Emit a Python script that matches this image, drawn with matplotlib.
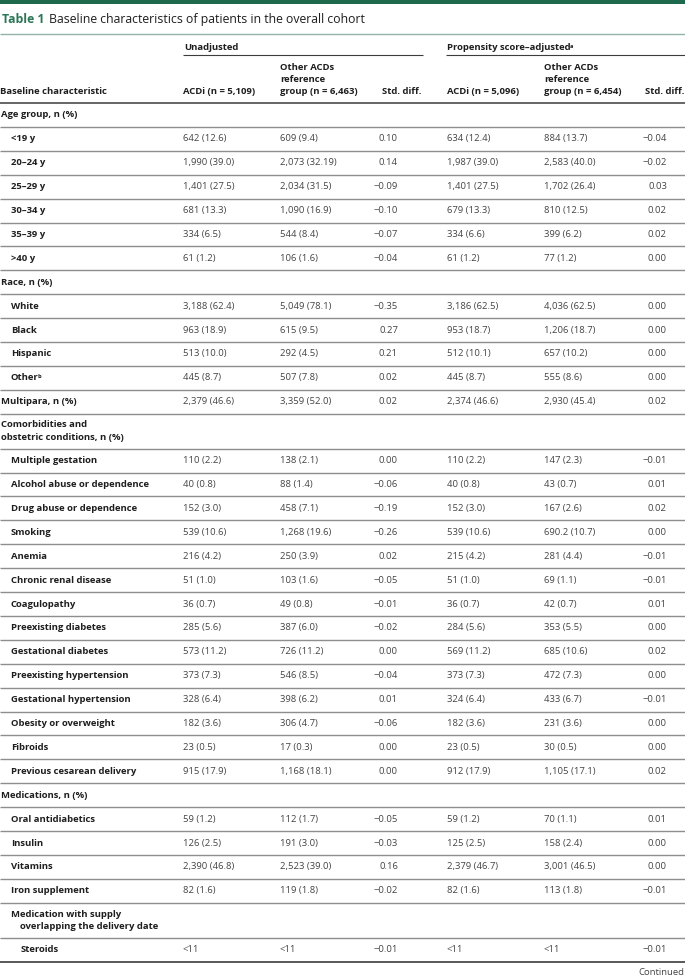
import matplotlib
matplotlib.use("Agg")
import matplotlib.pyplot as plt

plt.rcParams["font.family"] = ["Open Sans", "DejaVu Sans"]

# ---------------- data ----------------
title_num = "Table 1"
title_text = "Baseline characteristics of patients in the overall cohort"
group_headers = ["Unadjusted", "Propensity score–adjusted"]
group_header_notes = ["", "a"]
col_headers = ["ACDi (n = 5,109)", "Other ACDs\nreference\ngroup (n = 6,463)", "Std. diff.",
               "ACDi (n = 5,096)", "Other ACDs\nreference\ngroup (n = 6,454)", "Std. diff."]
first_col_header = "Baseline characteristic"

row_labels = [
    "Age group, n (%)", "<19 y", "20–24 y", "25–29 y", "30–34 y", "35–39 y", ">40 y",
    "Race, n (%)", "White", "Black", "Hispanic", "Other",
    "Multipara, n (%)",
    "Comorbidities and\nobstetric conditions, n (%)",
    "Multiple gestation", "Alcohol abuse or dependence", "Drug abuse or dependence",
    "Smoking", "Anemia", "Chronic renal disease", "Coagulopathy", "Preexisting diabetes",
    "Gestational diabetes", "Preexisting hypertension", "Gestational hypertension",
    "Obesity or overweight", "Fibroids", "Previous cesarean delivery",
    "Medications, n (%)", "Oral antidiabetics", "Insulin", "Vitamins", "Iron supplement",
    "Medication with supply\noverlapping the delivery date",
    "Steroids",
]
row_notes = [""] * 11 + ["b"] + [""] * 23
row_levels = [0, 1, 1, 1, 1, 1, 1,
              0, 1, 1, 1, 1,
              0,
              0,
              1, 1, 1, 1, 1, 1, 1, 1, 1, 1, 1, 1, 1, 1,
              0, 1, 1, 1, 1,
              1,
              2]

unadj_acdi = ["", "642 (12.6)", "1,990 (39.0)", "1,401 (27.5)", "681 (13.3)", "334 (6.5)", "61 (1.2)",
              "", "3,188 (62.4)", "963 (18.9)", "513 (10.0)", "445 (8.7)",
              "2,379 (46.6)",
              "",
              "110 (2.2)", "40 (0.8)", "152 (3.0)", "539 (10.6)", "216 (4.2)", "51 (1.0)", "36 (0.7)",
              "285 (5.6)", "573 (11.2)", "373 (7.3)", "328 (6.4)", "182 (3.6)", "23 (0.5)", "915 (17.9)",
              "", "59 (1.2)", "126 (2.5)", "2,390 (46.8)", "82 (1.6)",
              "", "<11"]
unadj_other = ["", "609 (9.4)", "2,073 (32.19)", "2,034 (31.5)", "1,090 (16.9)", "544 (8.4)", "106 (1.6)",
               "", "5,049 (78.1)", "615 (9.5)", "292 (4.5)", "507 (7.8)",
               "3,359 (52.0)",
               "",
               "138 (2.1)", "88 (1.4)", "458 (7.1)", "1,268 (19.6)", "250 (3.9)", "103 (1.6)", "49 (0.8)",
               "387 (6.0)", "726 (11.2)", "546 (8.5)", "398 (6.2)", "306 (4.7)", "17 (0.3)", "1,168 (18.1)",
               "", "112 (1.7)", "191 (3.0)", "2,523 (39.0)", "119 (1.8)",
               "", "<11"]
unadj_std = ["", "0.10", "0.14", "−0.09", "−0.10", "−0.07", "−0.04",
             "", "−0.35", "0.27", "0.21", "0.02",
             "0.02",
             "",
             "0.00", "−0.06", "−0.19", "−0.26", "0.02", "−0.05", "−0.01",
             "−0.02", "0.00", "−0.04", "0.01", "−0.06", "0.00", "0.00",
             "", "−0.05", "−0.03", "0.16", "−0.02",
             "", "−0.01"]
adj_acdi = ["", "634 (12.4)", "1,987 (39.0)", "1,401 (27.5)", "679 (13.3)", "334 (6.6)", "61 (1.2)",
            "", "3,186 (62.5)", "953 (18.7)", "512 (10.1)", "445 (8.7)",
            "2,374 (46.6)",
            "",
            "110 (2.2)", "40 (0.8)", "152 (3.0)", "539 (10.6)", "215 (4.2)", "51 (1.0)", "36 (0.7)",
            "284 (5.6)", "569 (11.2)", "373 (7.3)", "324 (6.4)", "182 (3.6)", "23 (0.5)", "912 (17.9)",
            "", "59 (1.2)", "125 (2.5)", "2,379 (46.7)", "82 (1.6)",
            "", "<11"]
adj_other = ["", "884 (13.7)", "2,583 (40.0)", "1,702 (26.4)", "810 (12.5)", "399 (6.2)", "77 (1.2)",
             "", "4,036 (62.5)", "1,206 (18.7)", "657 (10.2)", "555 (8.6)",
             "2,930 (45.4)",
             "",
             "147 (2.3)", "43 (0.7)", "167 (2.6)", "690.2 (10.7)", "281 (4.4)", "69 (1.1)", "42 (0.7)",
             "353 (5.5)", "685 (10.6)", "472 (7.3)", "433 (6.7)", "231 (3.6)", "30 (0.5)", "1,105 (17.1)",
             "", "70 (1.1)", "158 (2.4)", "3,001 (46.5)", "113 (1.8)",
             "", "<11"]
adj_std = ["", "−0.04", "−0.02", "0.03", "0.02", "0.02", "0.00",
           "", "0.00", "0.00", "0.00", "0.00",
           "0.02",
           "",
           "−0.01", "0.01", "0.02", "0.00", "−0.01", "−0.01", "0.01",
           "0.00", "0.02", "0.00", "−0.01", "0.00", "0.00", "0.02",
           "", "0.01", "0.00", "0.00", "−0.01",
           "", "−0.01"]
footer_text = "Continued"

# ---------------- layout / style ----------------
W, H = 685, 977
GREEN = "#1f6a4c"
GREEN_T = "#2a7655"
TXT = "#1e1e1e"
DATA = "#444444"
SEP = "#8e8e8e"
DARK = "#3c3c3c"
FS = 6.8
FS_TITLE = 8.85
W_LAB = "bold"

fig = plt.figure(figsize=(W / 100, H / 100), dpi=100)
ax = fig.add_axes([0, 0, 1, 1])
ax.set_xlim(0, W)
ax.set_ylim(H, 0)
ax.axis("off")

# top bar and title
ax.axhspan(0, 4, color=GREEN, lw=0)
t = ax.text(2, 26, title_num, fontsize=FS_TITLE, weight="bold", color=GREEN_T, va="bottom", ha="left")
ax.annotate(title_text, xy=(1, 0), xycoords=t, xytext=(3.5, 0), textcoords="offset points",
            fontsize=FS_TITLE, color=TXT, va="bottom", ha="left")
ax.hlines(34, 0, W, color="#93b3a6", lw=1.0)

# column positions
x_label = 1
x_cols = [183, 280, 382, 447, 544, 684]
col_ha = ["left", "left", "left", "left", "left", "right"]
x_std_right = [398, 667]
indent = [0, 10, 20]
hang = 9

# group headers
grp_spans = [(183, 423), (446, W)]
for (x0, x1), g, note in zip(grp_spans, group_headers, group_header_notes):
    gt = ax.text(x0 + 1, 47, g, fontsize=FS, weight=W_LAB, color=TXT, va="center", ha="left")
    if note:
        ax.annotate(note, xy=(1, 1), xycoords=gt, xytext=(-0.6, -0.8), textcoords="offset points",
                    fontsize=FS * 0.6, weight=W_LAB, color=TXT, va="top", ha="left")
    ax.hlines(55, x0, x1, color=DARK, lw=0.8)

# column headers
base_y = 91
line_h = 11.6
ax.text(x_label - 1, base_y, first_col_header, fontsize=FS, weight=W_LAB, color=TXT, va="center")
for x, ha, ch in zip(x_cols, col_ha, col_headers):
    parts = ch.split("\n")
    for i, p in enumerate(parts):
        yy = base_y - (len(parts) - 1 - i) * line_h
        ax.text(x, yy, p, fontsize=FS, weight=W_LAB, color=TXT, va="center", ha=ha)
ax.hlines(103, 0, W, color=DARK, lw=1.1)

# body rows
single_h = 23.9
double_h = 35.0
y = 103
data_cols = [unadj_acdi, unadj_other, unadj_std, adj_acdi, adj_other, adj_std]
n_rows = len(row_labels)
for r in range(n_rows):
    parts = row_labels[r].split("\n")
    h = single_h if len(parts) == 1 else double_h
    yc = y + h / 2
    lvl = row_levels[r]
    for i, p in enumerate(parts):
        yy = yc + (i - (len(parts) - 1) / 2) * 12.5
        xx = x_label + indent[lvl] + (hang if (i > 0 and lvl > 0) else 0)
        lt = ax.text(xx, yy, p, fontsize=FS, weight=W_LAB, color=TXT, va="center", ha="left")
    if row_notes[r]:
        ax.annotate(row_notes[r], xy=(1, 1), xycoords=lt, xytext=(-0.6, -0.8), textcoords="offset points",
                    fontsize=FS * 0.6, weight=W_LAB, color=TXT, va="top", ha="left")
    for c, col in enumerate(data_cols):
        v = col[r]
        if not v:
            continue
        if c in (2, 5):
            ax.text(x_std_right[c // 3], yc, v, fontsize=FS, color=DATA, va="center", ha="right")
        else:
            ax.text(x_cols[c], yc, v, fontsize=FS, color=DATA, va="center", ha="left")
    y += h
    if r < n_rows - 1:
        ax.hlines(y, 0, W, color=SEP, lw=1.0)
    else:
        ax.hlines(y, 0, W, color=DARK, lw=1.2)

ax.text(W - 1, y + 11, footer_text, fontsize=FS, color=DATA, va="center", ha="right")

fig.savefig("out.png", dpi=100)
